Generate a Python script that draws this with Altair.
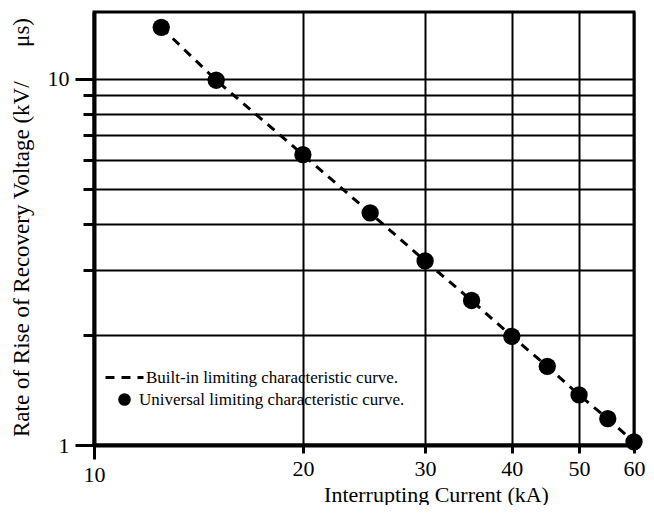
import altair as alt
import pandas as pd

current = [12.5, 15, 20, 25, 30, 35, 40, 45, 50, 55, 60]
rrrv = [13.8, 9.9, 6.2, 4.3, 3.18, 2.48, 1.98, 1.64, 1.37, 1.18, 1.02]
x_ticks = [10, 20, 30, 40, 50, 60]
y_ticks = [1, 2, 3, 4, 5, 6, 7, 8, 9, 10]
line_name = "Built-in limiting characteristic curve."
point_name = "Universal limiting characteristic curve."

df = pd.DataFrame({"current": current, "rrrv": rrrv})
df["line"] = line_name
df["pts"] = point_name

FONT = "Liberation Serif"

x_enc = alt.X(
    "current:Q",
    scale=alt.Scale(type="log", domain=[10, 60], nice=False),
    axis=alt.Axis(
        values=x_ticks, format="d", grid=True, gridColor="black", gridWidth=2,
        gridOpacity=1, domainColor="black", domainWidth=4,
        tickColor="black", tickWidth=3,
        tickSize={"condition": {"test": "datum.value == 10", "value": 14}, "value": 8},
        labelFont=FONT, labelFontSize=22, labelColor="black", labelPadding=22,
        labelBaseline="alphabetic", labelFlush=False,
        title="Interrupting Current (kA)", titleFont=FONT, titleFontSize=22,
        titleFontWeight="normal", titleColor="black", titleX=342, titleY=56,
        titleBaseline="alphabetic",
    ),
)
y_enc = alt.Y(
    "rrrv:Q",
    scale=alt.Scale(type="log", domain=[1, 15.2], nice=False),
    axis=alt.Axis(
        values=y_ticks, grid=True, gridColor="black", gridWidth=2, gridOpacity=1,
        domainColor="black", domainWidth=4, tickColor="black", tickWidth=3,
        tickSize={"condition": {"test": "datum.value == 1 || datum.value == 10", "value": 19}, "value": 11},
        labelExpr="datum.value == 1 || datum.value == 10 ? datum.label : ''",
        labelFont=FONT, labelFontSize=22, labelColor="black", labelPadding=6,
        labelFlush=False,
        title="Rate of Rise of Recovery Voltage (kV/\u2003\u2002μs)", titleFont=FONT,
        titleFontSize=23, titleFontWeight="normal", titleColor="black",
        titleX=-73, titleY=215, titleBaseline="middle", titleAngle=270,
    ),
)

line = alt.Chart(df).mark_line(color="black", strokeWidth=3).encode(
    x=x_enc, y=y_enc,
    strokeDash=alt.StrokeDash(
        "line:N",
        scale=alt.Scale(domain=[line_name], range=[[9, 7]]),
        legend=alt.Legend(
            title=None, orient="none", legendX=10, legendY=345,
            symbolType="stroke", symbolSize=1444, symbolStrokeWidth=3,
            symbolDash=[13, 7], symbolStrokeColor="black", labelFont=FONT,
            labelFontSize=17, labelColor="black", labelOffset=1, labelLimit=400,
            padding=0,
        ),
    ),
)

points = alt.Chart(df).mark_point(filled=True, color="black", opacity=1, size=300).encode(
    x=x_enc, y=y_enc,
    shape=alt.Shape(
        "pts:N",
        scale=alt.Scale(domain=[point_name], range=["circle"]),
        legend=alt.Legend(
            title=None, orient="none", legendX=22, legendY=379,
            symbolSize=160, symbolFillColor="black", symbolStrokeColor="black",
            symbolOpacity=1, labelFont=FONT, labelFontSize=17, labelColor="black",
            labelOffset=6, labelLimit=400, padding=0,
        ),
    ),
)

chart = (
    alt.layer(line, points)
    .resolve_legend(strokeDash="independent", shape="independent")
    .properties(
        width=540, height=433, autosize=alt.AutoSizeParams(type="none"),
        padding={"left": 86, "top": 4, "right": 12, "bottom": 60},
        background="white",
    )
    .configure_view(stroke="black", strokeWidth=3)
)

chart.save("out.html", embed_options={"renderer": "svg", "actions": False})
